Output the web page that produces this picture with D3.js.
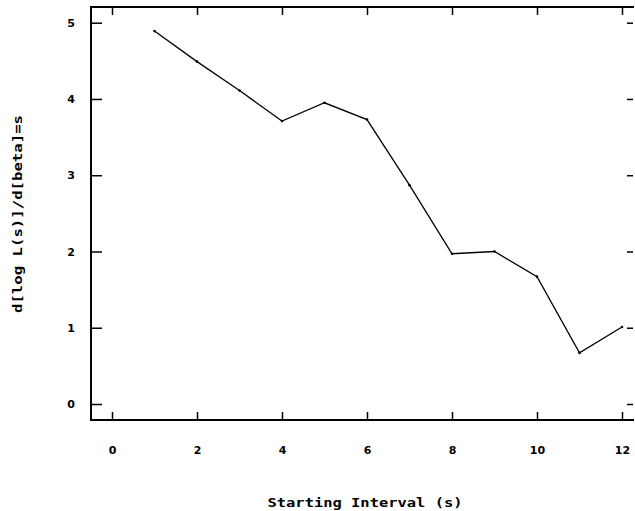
<!DOCTYPE html>
<html>
<head>
<meta charset="utf-8">
<script src="https://cdn.jsdelivr.net/npm/d3@7"></script>
<style>
  body { margin: 0; background: #fff; }
  svg { display: block; }
  .tick text { font-family: 'DejaVu Sans', sans-serif; font-weight: bold; font-size: 11px; fill: #000; }
  .axisLabel { font-family: 'DejaVu Sans Mono', monospace; font-weight: bold; font-size: 12px; fill: #000; }
</style>
</head>
<body>
<script>
// data
var intervals = [1, 2, 3, 4, 5, 6, 7, 8, 9, 10, 11, 12];
var derivValues = [4.89, 4.49, 4.11, 3.71, 3.95, 3.73, 2.87, 1.97, 2.0, 1.67, 0.67, 1.01];
var xTicks = [0, 2, 4, 6, 8, 10, 12];
var yTicks = [0, 1, 2, 3, 4, 5];

var width = 635, height = 511;
var frame = {left: 91, top: 7, right: 634, bottom: 420};

var svg = d3.select('body').append('svg')
  .attr('width', width)
  .attr('height', height);

var x = d3.scaleLinear().domain([0, 12]).range([112, 622]);
var y = d3.scaleLinear().domain([0, 5]).range([404, 22.7]);

// frame: left, top, bottom (no right line in the original)
svg.append('path')
  .attr('d', 'M' + frame.right + ',' + frame.top + 'H' + frame.left + 'V' + frame.bottom + 'H' + frame.right)
  .attr('fill', 'none')
  .attr('stroke', '#000')
  .attr('stroke-width', 2);

function styleAxis(g){
  g.select('.domain').remove();
  g.selectAll('.tick line').attr('stroke', '#000').attr('stroke-width', 1.5);
}

svg.append('g')
  .attr('transform', 'translate(0,' + frame.bottom + ')')
  .call(d3.axisBottom(x).tickValues(xTicks).tickSize(-8).tickPadding(26).tickFormat(d3.format('d')))
  .call(styleAxis);

svg.append('g')
  .attr('transform', 'translate(0,' + frame.top + ')')
  .call(d3.axisTop(x).tickValues(xTicks).tickSize(-8).tickFormat(''))
  .call(styleAxis);

svg.append('g')
  .attr('transform', 'translate(' + frame.left + ',0)')
  .call(d3.axisLeft(y).tickValues(yTicks).tickSize(-11).tickPadding(16).tickFormat(d3.format('d')))
  .call(styleAxis);

svg.append('g')
  .attr('transform', 'translate(' + (frame.right - 1) + ',0)')
  .call(d3.axisRight(y).tickValues(yTicks).tickSize(-6).tickFormat(''))
  .call(styleAxis);

var pts = intervals.map(function(d, i){ return [d, derivValues[i]]; });

svg.append('path')
  .datum(pts)
  .attr('d', d3.line().x(function(d){ return x(d[0]); }).y(function(d){ return y(d[1]); }))
  .attr('fill', 'none')
  .attr('stroke', '#000')
  .attr('stroke-width', 1.3);

svg.selectAll('.pt')
  .data(pts)
  .enter()
    .append('circle')
    .attr('class', 'pt')
    .attr('cx', function(d){ return x(d[0]); })
    .attr('cy', function(d){ return y(d[1]); })
    .attr('r', 1.3)
    .attr('fill', '#000');

svg.append('text')
  .attr('class', 'axisLabel')
  .attr('x', 365)
  .attr('y', 507)
  .attr('text-anchor', 'middle')
  .attr('textLength', 195)
  .attr('lengthAdjust', 'spacingAndGlyphs')
  .text('Starting Interval (s)');

svg.append('text')
  .attr('class', 'axisLabel')
  .attr('transform', 'translate(22,214) rotate(-90)')
  .attr('text-anchor', 'middle')
  .attr('textLength', 198)
  .attr('lengthAdjust', 'spacingAndGlyphs')
  .text('d[log L(s)]/d[beta]=s');
</script>
</body>
</html>
